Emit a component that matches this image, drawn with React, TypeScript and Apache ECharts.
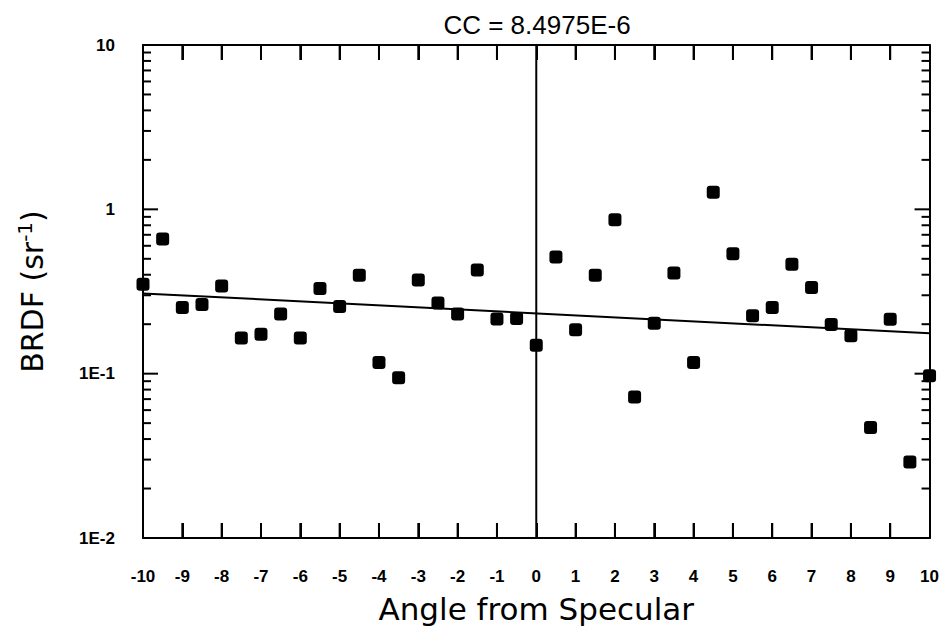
import React, { useEffect, useRef } from "react";
import * as echarts from "echarts";

const angles = [
  -10, -9.5, -9, -8.5, -8, -7.5, -7, -6.5, -6, -5.5, -5, -4.5, -4, -3.5, -3, -2.5, -2, -1.5, -1, -0.5,
  0, 0.5, 1, 1.5, 2, 2.5, 3, 3.5, 4, 4.5, 5, 5.5, 6, 6.5, 7, 7.5, 8, 8.5, 9, 9.5, 10,
];
const brdf = [
  0.35, 0.66, 0.253, 0.264, 0.341, 0.165, 0.174, 0.231, 0.165, 0.33, 0.256, 0.397, 0.117, 0.0945, 0.371, 0.269, 0.231, 0.427, 0.215, 0.217,
  0.149, 0.513, 0.185, 0.397, 0.865, 0.072, 0.203, 0.41, 0.117, 1.27, 0.537, 0.225, 0.253, 0.463, 0.335, 0.199, 0.17, 0.047, 0.214, 0.029, 0.097,
];
const fitX = [-10, 10];
const fitY = [0.308, 0.176];
const minorTickValues = [
  0.02, 0.03, 0.04, 0.05, 0.06, 0.07, 0.08, 0.09,
  0.2, 0.3, 0.4, 0.5, 0.6, 0.7, 0.8, 0.9,
  2, 3, 4, 5, 6, 7, 8, 9,
];
const xTickValues = [-9, -8, -7, -6, -5, -4, -3, -2, -1, 1, 2, 3, 4, 5, 6, 7, 8, 9];
const yMajorTickValues = [1, 0.1];
const yTickLabels: Record<string, string> = { "10": "10", "1": "1", "0.1": "1E-1", "0.01": "1E-2" };
const titleText = "CC = 8.4975E-6";

export default function App() {
  const ref = useRef<HTMLDivElement>(null);
  useEffect(() => {
    if (!ref.current) return;
    const chart = echarts.init(ref.current, null, { renderer: "svg" });
    const black = "#000";
    const labelFont = { color: black, fontFamily: "Liberation Sans", fontWeight: "bold" as const, fontSize: 17 };
    const xBase = {
      type: "value" as const,
      min: -10,
      max: 10,
      interval: 1,
      splitLine: { show: false },
      axisLine: { show: true, onZero: false, lineStyle: { color: black, width: 2 } },
      axisTick: { show: true, inside: true, length: 15, lineStyle: { color: black, width: 2 } },
    };
    const yBase = {
      type: "log" as const,
      logBase: 10,
      min: 0.01,
      max: 10,
      splitLine: { show: false },
      axisLine: { show: true, onZero: false, lineStyle: { color: black, width: 2 } },
      axisTick: { show: false },
    };
    const box = (x: number, y: number, w: number, h: number) => ({
      type: "rect",
      shape: { x, y, width: w, height: h },
      style: { fill: black },
    });
    chart.setOption({
      animation: false,
      backgroundColor: "#fff",
      grid: { left: 143, right: 12, top: 45, bottom: 93, containLabel: false },
      graphic: [
        {
          type: "text",
          x: 537,
          y: 25,
          style: {
            text: titleText,
            fill: black,
            fontFamily: "Liberation Sans",
            fontSize: 26,
            textAlign: "center",
            textVerticalAlign: "middle",
          },
        },
      ],
      xAxis: [
        {
          ...xBase,
          position: "bottom",
          axisLabel: { ...labelFont, margin: 30 },
          name: "Angle from Specular",
          nameLocation: "middle",
          nameGap: 55,
          nameTextStyle: { color: black, fontFamily: "DejaVu Sans", fontSize: 31 },
        },
        { ...xBase, position: "top", axisLabel: { show: false } },
      ],
      yAxis: [
        {
          ...yBase,
          position: "left",
          axisLabel: {
            ...labelFont,
            margin: 28,
            formatter: (v: number) => {
              const key = String(Number(v.toPrecision(6)));
              return yTickLabels[key] ?? key;
            },
          },
          name: "BRDF (sr{sup|-1})",
          nameLocation: "middle",
          nameGap: 94,
          nameTextStyle: {
            color: black,
            fontFamily: "DejaVu Sans",
            fontSize: 30,
            rich: {
              sup: { fontFamily: "DejaVu Sans", fontSize: 20, color: black, padding: [0, 0, 14, 0] },
            },
          },
        },
        { ...yBase, position: "right", axisLabel: { show: false } },
      ],
      series: [
        {
          type: "custom",
          xAxisIndex: 0,
          yAxisIndex: 0,
          silent: true,
          clip: false,
          z: 10,
          data: minorTickValues.map((v) => [0, v, 8]).concat(yMajorTickValues.map((v) => [0, v, 15])),
          renderItem: (params: any, api: any) => {
            const v = api.value(1);
            const len = api.value(2);
            const pl = api.coord([-10, v]);
            const pr = api.coord([10, v]);
            return {
              type: "group",
              children: [box(pl[0], pl[1] - 1, len, 2), box(pr[0] - len, pr[1] - 1, len, 2)],
            };
          },
        },
        {
          type: "custom",
          xAxisIndex: 0,
          yAxisIndex: 0,
          silent: true,
          clip: false,
          z: 10,
          data: xTickValues.map((v) => [v, 1]),
          renderItem: (params: any, api: any) => {
            const v = api.value(0);
            const pb = api.coord([v, 0.01]);
            const pt = api.coord([v, 10]);
            return {
              type: "group",
              children: [box(pb[0] - 1, pb[1] - 15, 2, 15), box(pt[0] - 1, pt[1], 2, 15)],
            };
          },
        },
        {
          type: "line",
          silent: true,
          symbol: "none",
          data: [
            [0, 0.01],
            [0, 10],
          ],
          lineStyle: { color: black, width: 2 },
        },
        {
          type: "line",
          silent: true,
          symbol: "none",
          data: fitX.map((x, i) => [x, fitY[i]]),
          lineStyle: { color: black, width: 2 },
        },
        {
          type: "scatter",
          symbol: "roundRect",
          symbolSize: 13,
          itemStyle: { color: black, opacity: 1 },
          data: angles.map((a, i) => [a, brdf[i]]),
        },
      ],
    });
    return () => chart.dispose();
  }, []);
  return <div ref={ref} style={{ position: "absolute", left: 0, top: 0, width: 942, height: 631 }} />;
}
